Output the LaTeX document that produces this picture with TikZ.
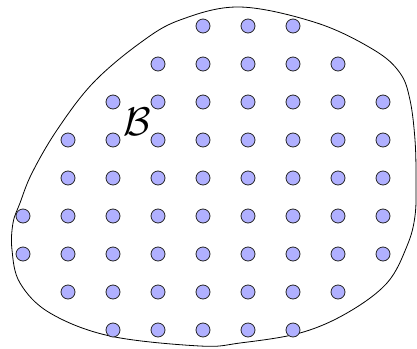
\documentclass[tikz,border=0pt]{standalone}
\usepackage{amsmath,amssymb}
\usepackage{tikz}
\usetikzlibrary{positioning,calc}
\definecolor{dotblue}{RGB}{176,176,255}
\tikzset{pt/.style={circle,draw=black!85,fill=dotblue,line width=0.8pt,minimum size=14pt,inner sep=0pt},
  blob/.style={draw,line width=0.8pt}}

\begin{document}
\begin{tikzpicture}[x=1pt,y=-1pt]
\useasboundingbox (0,0) rectangle (417,348);
\draw[blob] plot[smooth cycle,tension=0.6] coordinates{(240,7) (317,23) (374,50) (400,73) (410,100) (415,140) (416,180) (415,216) (407,246) (387,283) (347,313) (300,333) (240,343) (200,346) (110,336) (50,313) (20,283) (12,250) (13,223) (20,203) (32,173) (57,130) (93,83) (140,43) (180,20)};
\foreach \r/\a/\b in {1/4/6,2/3/7,3/2/8,4/1/8,5/1/8,6/0/8,7/0/8,8/1/7,9/2/6}{
  \foreach \c in {\a,...,\b}{\node[pt] (p\r-\c) at ({23+45*\c},{26+38*(\r-1)}) {};}
}
\node[scale=4] (lblB) at (137,122) {$\mathcal{B}$};
\end{tikzpicture}
\end{document}
